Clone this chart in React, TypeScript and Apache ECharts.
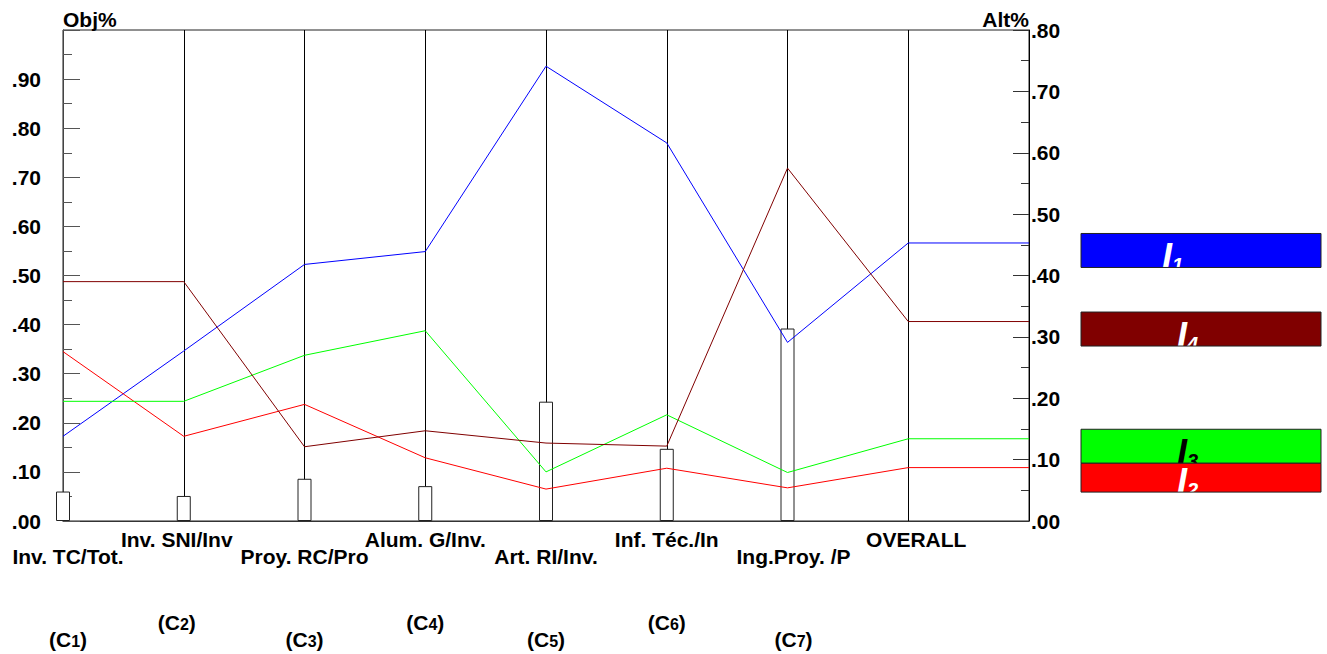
import React, { useEffect, useRef } from "react";
import * as echarts from "echarts";

// ---- data ----
const categories = [
  "Inv. TC/Tot.",
  "Inv. SNI/Inv",
  "Proy. RC/Pro",
  "Alum. G/Inv.",
  "Art. RI/Inv.",
  "Inf. Téc./In",
  "Ing.Proy. /P",
  "OVERALL",
];
const criteriaCodes = ["1", "2", "3", "4", "5", "6", "7"];
// criteria weights (left axis, Obj%)
const weights = [0.06, 0.051, 0.086, 0.071, 0.243, 0.147, 0.392];
// alternatives' priorities (right axis, Alt%)
const altI1 = [0.138, 0.277, 0.418, 0.439, 0.741, 0.616, 0.291, 0.453];
const altI2 = [0.276, 0.138, 0.19, 0.103, 0.052, 0.086, 0.054, 0.087];
const altI3 = [0.195, 0.195, 0.27, 0.31, 0.08, 0.173, 0.079, 0.134];
const altI4 = [0.39, 0.39, 0.121, 0.147, 0.127, 0.122, 0.575, 0.325];
const altNames = ["I1", "I2", "I3", "I4"];
const altSubs = ["1", "2", "3", "4"];

const FONT = "'Liberation Sans', Arial, Helvetica, sans-serif";

// styling (horizontal nudges of the category labels, legend colours)
const labelShift = [5, -7, 0, 0, 0, 0, 6, 8];
const altStyles = [
  { color: "#0000ff", text: "#ffffff", tx: 1162 },
  { color: "#ff0000", text: "#ffffff", tx: 1177 },
  { color: "#00ff00", text: "#000000", tx: 1177 },
  { color: "#800000", text: "#ffffff", tx: 1177 },
];

function lineData(vals: number[]) {
  const pts = vals.map((v, i) => [i, v]);
  // OVERALL value carried to the right axis
  pts.push([vals.length, vals[vals.length - 1]]);
  return pts;
}

function buildRich() {
  const rich: any = {
    sp: { fontSize: 10, lineHeight: 63 },
    s: {
      fontSize: 16,
      fontWeight: "bold",
      color: "#000",
      lineHeight: 15,
      verticalAlign: "bottom",
      fontFamily: FONT,
    },
  };
  labelShift.forEach((d, i) => {
    const l = d > 0 ? 2 * d : 0;
    const r = d < 0 ? -2 * d : 0;
    const base = { fontSize: 21, fontWeight: "bold", color: "#000", lineHeight: 20, fontFamily: FONT };
    rich["n" + i] = { ...base, padding: [0, r, 0, l] };
    rich["co" + i] = { ...base, padding: [0, 0, 0, l] };
    rich["cc" + i] = { ...base, padding: [0, r, 0, 0] };
  });
  return rich;
}

// parity 1 -> upper row (C2, C4, C6, OVERALL), parity 0 -> lower row (C1, C3, C5, C7)
function labelFormatter(parity: number) {
  return (v: number) => {
    const i = Math.round(v);
    if (i < 0 || i >= categories.length || i % 2 !== parity) return "";
    const name = categories[i];
    const code = criteriaCodes[i];
    const codePart = code ? `{co${i}|(C}{s|${code}}{cc${i}|)}` : "";
    return codePart ? `{n${i}|${name}}\n{sp| }\n${codePart}` : `{n${i}|${name}}`;
  };
}

function makeXAxis(parity: number, margin: number) {
  return {
    type: "value",
    min: 0,
    max: categories.length,
    interval: 1,
    position: "bottom",
    axisLine: { show: parity === 1, onZero: false, lineStyle: { color: "#333", width: 1 } },
    axisTick: { show: false },
    splitLine: { show: parity === 1, lineStyle: { color: "#000", width: 1 } },
    axisLabel: {
      show: true,
      margin,
      showMinLabel: true,
      showMaxLabel: true,
      hideOverlap: false,
      formatter: labelFormatter(parity),
      rich: buildRich(),
    },
  };
}

export default function App() {
  const ref = useRef<HTMLDivElement>(null);

  useEffect(() => {
    if (!ref.current) return;
    const chart = echarts.init(ref.current, null, { renderer: "svg" });
    const allAlts = [altI1, altI2, altI3, altI4];

    const tickFmt = (v: number) => {
      if (v > 0.999 && v < 1.001) return "";
      return v.toFixed(2).replace(/^0/, "");
    };

    chart.setOption({
      animation: false,
      backgroundColor: "#ffffff",
      textStyle: { fontFamily: FONT },
      grid: {
        left: 63,
        top: 30,
        width: 966,
        height: 491,
        show: true,
        borderColor: "#222",
        borderWidth: 1,
        containLabel: false,
        outerBoundsMode: "none",
      },
      xAxis: [makeXAxis(1, 8), makeXAxis(0, 25)],
      yAxis: [
        {
          type: "value",
          min: 0,
          max: 1,
          interval: 0.1,
          position: "left",
          name: "Obj%",
          nameLocation: "end",
          nameGap: 11,
          nameMoveOverlap: false,
          nameTextStyle: {
            align: "left",
            verticalAlign: "middle",
            fontSize: 21,
            fontWeight: "bold",
            color: "#000",
            fontFamily: FONT,
          },
          axisLine: { show: true, onZero: false, lineStyle: { color: "#444", width: 1 } },
          axisTick: { show: true, inside: true, length: 17, lineStyle: { color: "#555", width: 1 } },
          minorTick: { show: true, splitNumber: 2, length: 9, lineStyle: { color: "#555", width: 1 } },
          splitLine: { show: false },
          minorSplitLine: { show: false },
          axisLabel: {
            margin: 22,
            formatter: tickFmt,
            fontSize: 21,
            fontWeight: "bold",
            color: "#000",
            fontFamily: FONT,
          },
        },
        {
          type: "value",
          min: 0,
          max: 0.8,
          interval: 0.1,
          position: "right",
          name: "Alt%",
          nameLocation: "end",
          nameGap: 11,
          nameMoveOverlap: false,
          nameTextStyle: {
            align: "right",
            verticalAlign: "middle",
            fontSize: 21,
            fontWeight: "bold",
            color: "#000",
            fontFamily: FONT,
          },
          axisLine: { show: true, onZero: false, lineStyle: { color: "#000", width: 1 } },
          axisTick: { show: true, inside: true, length: 16, lineStyle: { color: "#333", width: 1 } },
          minorTick: { show: true, splitNumber: 2, length: 8, lineStyle: { color: "#333", width: 1 } },
          splitLine: { show: false },
          minorSplitLine: { show: false },
          axisLabel: {
            margin: 2,
            formatter: (v: number) => v.toFixed(2).replace(/^0/, ""),
            fontSize: 21,
            fontWeight: "bold",
            color: "#000",
            fontFamily: FONT,
          },
        },
      ],
      series: [
        {
          type: "bar",
          name: "Obj",
          xAxisIndex: 0,
          yAxisIndex: 0,
          barWidth: 14,
          data: weights.map((w, i) => [i, w]),
          itemStyle: { color: "#ffffff", borderColor: "#222", borderWidth: 1 },
          silent: true,
        },
        ...allAlts.map((vals, k) => ({
          type: "line",
          name: altNames[k],
          xAxisIndex: 0,
          yAxisIndex: 1,
          data: lineData(vals),
          symbol: "none",
          lineStyle: { color: altStyles[k].color, width: 1 },
          itemStyle: { color: altStyles[k].color },
          silent: true,
        })),
      ],
    });

    // legend boxes positioned at each alternative's OVERALL value on the right axis
    const items = allAlts.map((vals, k) => {
      const y = chart.convertToPixel({ yAxisIndex: 1 }, vals[vals.length - 1]) as number;
      return { k, y };
    });
    items.sort((a, b) => a.y - b.y);
    const graphics: any[] = [];
    let prevBottom = -1e9;
    let z = 100;
    const boxX = 1081;
    const boxW = 240;
    const boxH = 34;
    items.forEach(({ k, y }) => {
      const st = altStyles[k];
      const top0 = y - 9.5;
      const bottom = top0 + boxH;
      const top = Math.max(top0, prevBottom);
      graphics.push({
        type: "rect",
        z: z++,
        shape: { x: boxX, y: top, width: boxW, height: bottom - top },
        style: { fill: st.color },
        silent: true,
      });
      const base = bottom + 2;
      graphics.push({
        type: "text",
        z: z++,
        x: st.tx,
        y: base - 0.3465 * 36,
        style: {
          text: `{a|I}{b|${altSubs[k]}}`,
          align: "left",
          verticalAlign: "middle",
          fill: st.text,
          rich: {
            a: {
              font: `italic bold 36px ${FONT}`,
              fontSize: 36,
              fontStyle: "italic",
              fontWeight: "bold",
              fill: st.text,
              lineHeight: 36,
            },
            b: {
              font: `italic bold 20px ${FONT}`,
              fontSize: 20,
              fontStyle: "italic",
              fontWeight: "bold",
              fill: st.text,
              lineHeight: 25,
              verticalAlign: "bottom",
            },
          },
        },
        silent: true,
      });
      graphics.push({
        type: "rect",
        z: z++,
        shape: { x: boxX - 2, y: bottom + 0.5, width: boxW + 4, height: 20 },
        style: { fill: "#ffffff" },
        silent: true,
      });
      graphics.push({
        type: "rect",
        z: z++,
        shape: { x: boxX, y: top, width: boxW, height: bottom - top },
        style: { fill: "none", stroke: "#222", lineWidth: 1 },
        silent: true,
      });
      prevBottom = bottom;
    });
    chart.setOption({ graphic: graphics });

    return () => {
      chart.dispose();
    };
  }, []);

  return (
    <div
      ref={ref}
      style={{ position: "fixed", left: 0, top: 0, width: 1327, height: 654, background: "#fff" }}
    />
  );
}
